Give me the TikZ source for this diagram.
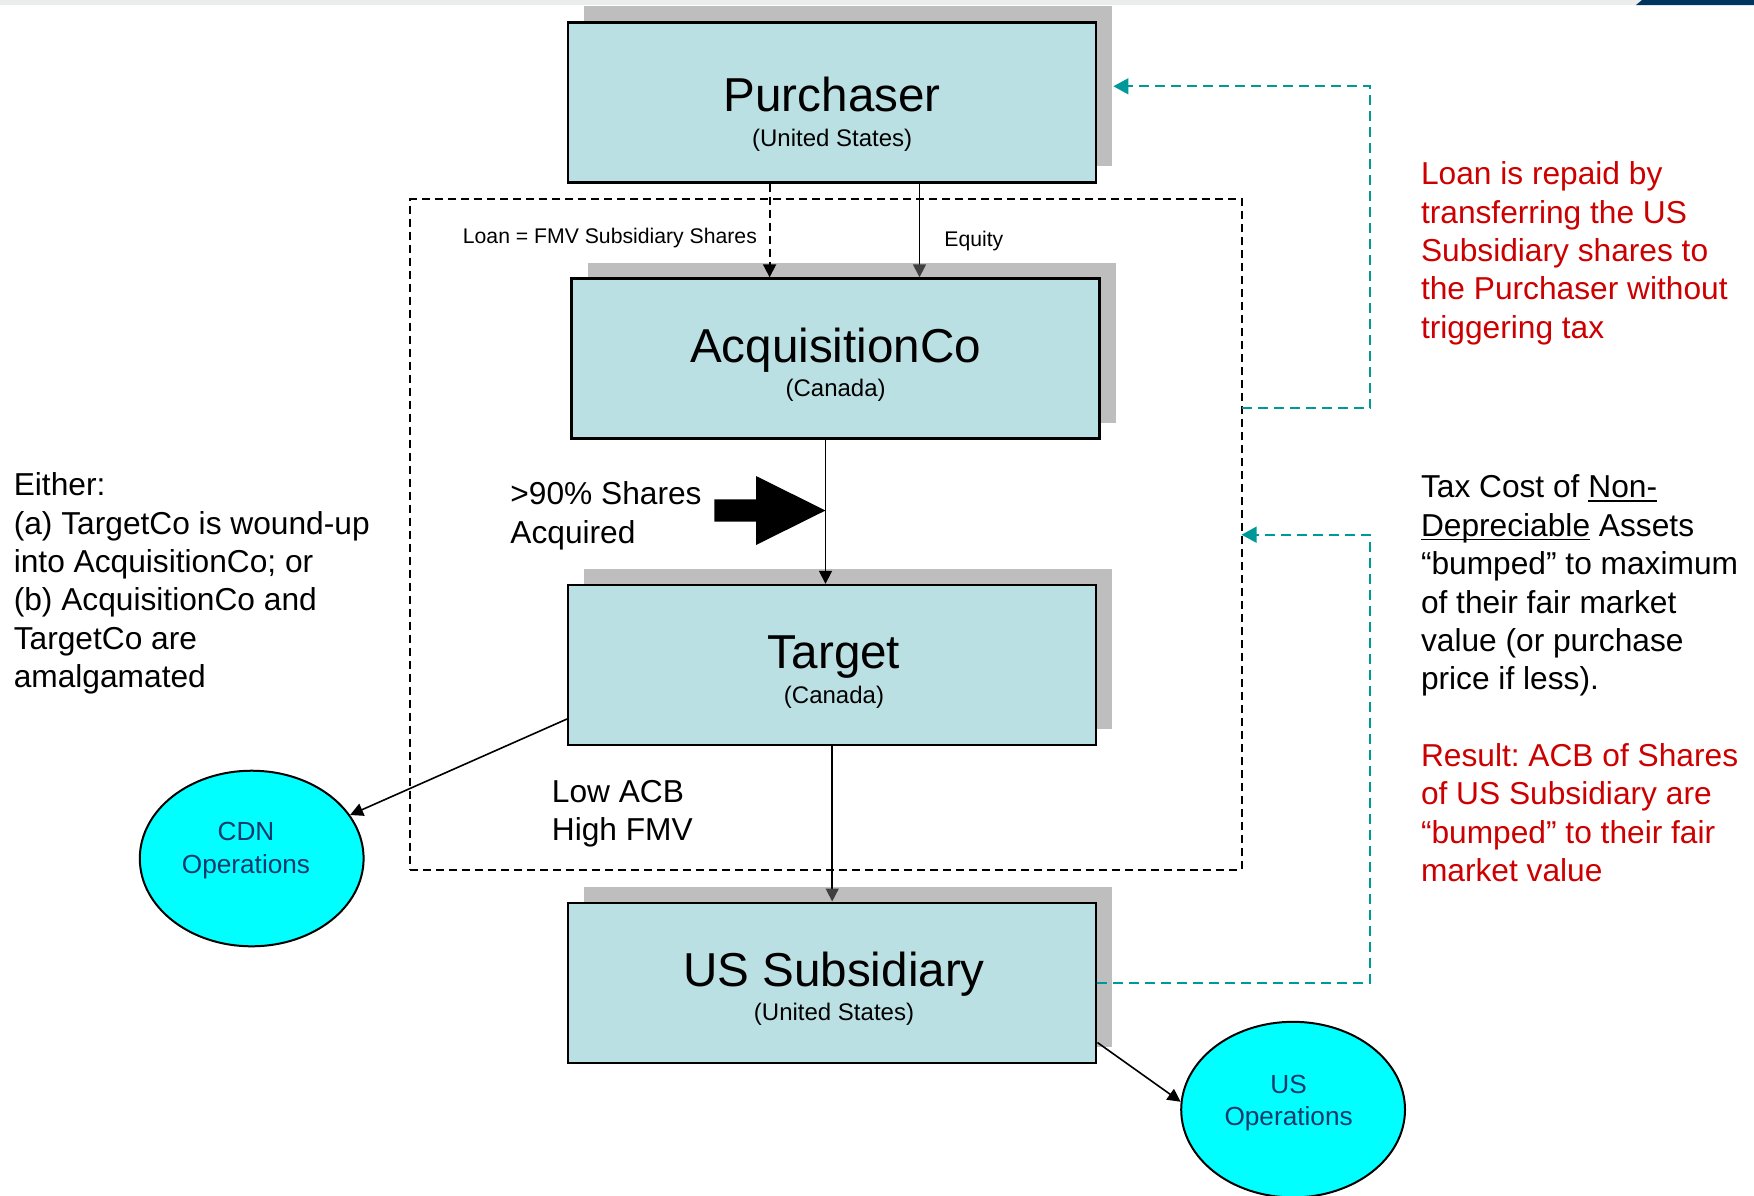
\documentclass[tikz,border=0pt]{standalone}
\usepackage{fontspec}
\setmainfont{Liberation Sans}
\usetikzlibrary{arrows.meta,shapes.geometric,shadows,calc}
\frenchspacing

\definecolor{boxfill}{HTML}{BBE0E3}
\definecolor{shadowgray}{HTML}{BEBEBE}
\definecolor{linkteal}{HTML}{009999}
\definecolor{notered}{HTML}{CC0000}
\definecolor{opsfill}{HTML}{00FFFF}
\definecolor{opstext}{HTML}{0D3A6B}
\definecolor{bandgray}{HTML}{EBEDED}
\definecolor{bandnavy}{HTML}{003560}
\definecolor{tipgray}{HTML}{404040}

% underline at a fixed depth, independent of descenders
\newsavebox\ulbox
\newcommand\ulword[1]{\sbox\ulbox{#1}\rlap{\rule[-2pt]{\wd\ulbox}{0.85pt}}\usebox\ulbox}
% stacked lines, baseline on the first line
\newcommand\lstack[1]{\begin{tabular}[t]{@{}l@{}}#1\end{tabular}}
\newcommand\cstack[1]{\begin{tabular}[t]{@{}c@{}}#1\end{tabular}}

\tikzset{
  entity/.style={draw=black, line width=1.2pt, fill=boxfill,
    minimum width=264pt, minimum height=80pt, inner sep=0pt,
    drop shadow={shadow xshift=8pt, shadow yshift=8pt, fill=shadowgray, opacity=1}},
  title/.style={font=\fontsize{23.8}{28}\selectfont, anchor=base, inner sep=0pt},
  subtitle/.style={font=\fontsize{12}{14}\selectfont, anchor=base, inner sep=0pt},
  conn/.style={line width=0.8pt, -{Triangle[length=6.5pt,width=6.5pt]}},
  greyconn/.style={line width=0.8pt, -{Triangle[length=6.5pt,width=6.5pt,color=tipgray]}},
  loandash/.style={line width=0.9pt, dash pattern=on 4pt off 2.5pt},
  link/.style={draw=linkteal, line width=0.85pt, dash pattern=on 5pt off 3pt,
    -{Triangle[length=7.5pt,width=8pt]}},
  groupbox/.style={draw, line width=1pt, dash pattern=on 4pt off 2.5pt,
    minimum width=415.55pt, minimum height=335.65pt, inner sep=0pt, outer sep=0pt},
  ops/.style={ellipse, draw, line width=1pt, fill=opsfill,
    minimum width=111.9pt, minimum height=87.8pt, inner sep=0pt},
  opslabel/.style={text=opstext, font=\fontsize{13.1}{16.25}\selectfont,
    anchor=base, inner sep=0pt},
  body/.style={font=\fontsize{15.85}{19.2}\selectfont, anchor=base west, inner sep=0pt},
  small/.style={font=\fontsize{10.6}{12.5}\selectfont, inner sep=0pt},
}

\begin{document}
\begin{tikzpicture}[x=0.5pt,y=-0.5pt]
\useasboundingbox (0,0) rectangle (1754,1195);

% header strip
\fill[bandgray] (0,0) rectangle (1754,5);
\fill[bandnavy] (1642,0) -- (1754,0) -- (1754,5) -- (1636,5) -- cycle;

% dashed group round AcquisitionCo and Target
\node[groupbox] (grp) at (826,534.7) {};

% entities
\node[entity] (pur) at (832.2,102.3) {};
\node[title] (purT) at (832.2,111.6) {Purchaser};
\node[subtitle] (purS) at (832.2,146.2) {(United States)};

\node[entity] (acq) at (835.6,358.5) {};
\node[title] (acqT) at (835.6,362.1) {AcquisitionCo};
\node[subtitle] (acqS) at (835.6,396.7) {(Canada)};

\node[entity] (tgt) at (832.2,665) {};
\node[title] (tgtT) at (834,668.6) {Target};
\node[subtitle] (tgtS) at (834,703.2) {(Canada)};

\node[entity] (uss) at (832.2,982.7) {};
\node[title] (ussT) at (834,986.3) {US Subsidiary};
\node[subtitle] (ussS) at (834,1020.9) {(United States)};

% operations
\node[ops] (cdn) at (251.7,858.5) {};
\node[opslabel] (cdnlbl) at (246,840.5) {\cstack{CDN\\Operations}};
\node[ops] (usops) at (1293.1,1109.6) {};
\node[opslabel] (usopslbl) at (1288.6,1093.4) {\cstack{US\\Operations}};

% guide positions for the vertical connectors and the teal rail
\coordinate (loanx) at (769.6,0);
\coordinate (eqx) at (919.5,0);
\coordinate (shx) at (825.5,0);
\coordinate (rail) at (1370.3,0);
\coordinate (tap) at ([yshift=63.2pt]grp.east);

% ownership connectors
\draw[conn, loandash] (pur.south -| loanx) -- (acq.north -| loanx);
\draw[greyconn] (pur.south -| eqx) -- (acq.north -| eqx);
\draw[conn] (acq.south -| shx) -- (tgt.north -| shx);
\draw[greyconn] (tgt.south) -- (uss.north);
\draw[conn] ([yshift=-27pt]tgt.west) -- (cdn);
\draw[conn] ([yshift=-29.9pt]uss.east) -- (usops.176);

% block arrow
\fill (714.3,499.3) -- (756,499.3) -- (756,476) -- (825.5,510.5)
  -- (756,545) -- (756,521.7) -- (714.3,521.7) -- cycle;

% teal return paths
\draw[link] (tap) -- (tap -| rail) |- ([shift={(8pt,8pt)}]pur.east);
\draw[link] (uss.east) -- (uss.east -| rail) |- (grp.east);

% connector labels
\node[small, anchor=base east] (loanlbl) at (757.3,243.6) {Loan = FMV Subsidiary Shares};
\node[small, anchor=base west] (eqlbl) at (944,246) {Equity};
\node[body] (sharelbl) at (510,504.6) {\lstack{>90\% Shares\\Acquired}};
\node[body] (acblbl) at (551.5,802.2) {\lstack{Low ACB\\High FMV}};

% notes
\node[body] (either) at (13.4,495.7)
  {\lstack{Either:\\(a) TargetCo is wound-up\\into AcquisitionCo; or\\(b) AcquisitionCo and\\TargetCo are\\amalgamated}};
\node[body, text=notered] (repaid) at (1420.6,184.7)
  {\lstack{Loan is repaid by\\transferring the US\\Subsidiary shares to\\the Purchaser without\\triggering tax}};
\node[body] (bump) at (1420.6,497.9)
  {\lstack{Tax Cost of \ulword{Non-}\\\ulword{Depreciable} Assets\\“bumped” to maximum\\of their fair market\\value (or purchase\\price if less).}};
\node[body, text=notered] (result) at (1420.6,766.4)
  {\lstack{Result: ACB of Shares\\of US Subsidiary are\\“bumped” to their fair\\market value}};
\end{tikzpicture}
\end{document}
